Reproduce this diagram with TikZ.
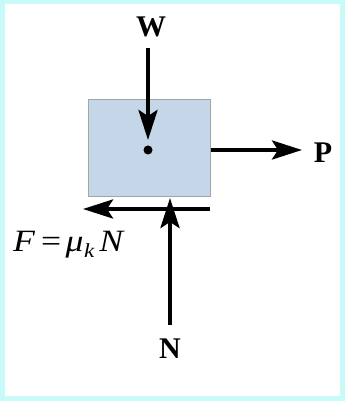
\documentclass[tikz,border=0pt]{standalone}
\usepackage{fontspec}
\setmainfont{Liberation Serif}
\usetikzlibrary{arrows.meta}
\definecolor{framecyan}{RGB}{200,250,250}
\definecolor{blockblue}{RGB}{196,214,232}
\definecolor{blockedge}{RGB}{160,165,170}
\tikzset{
  force/.style={line width=4pt,-{Stealth[length=30pt,width=19pt,inset=6pt]}},
  lbl/.style={font=\fontsize{30}{34}\selectfont\bfseries,inner sep=0pt}
}
\begin{document}
\begin{tikzpicture}[x=1pt,y=1pt]
    \useasboundingbox (0,0) rectangle (345,401);
    \fill[framecyan] (0,0) rectangle (345,401);
    \fill[white] (5,5) rectangle (340,397);

    % block
    \node[draw=blockedge,fill=blockblue,line width=1pt,minimum width=122pt,minimum height=97pt,inner sep=0pt] (block) at (149,252.5) {};
    \fill (148,251) circle (4.5pt);
    \coordinate (cg) at (148,261);

    % weight
    \node[lbl] (W) at (151,374) {W};
    \coordinate (wtail) at (148,353);
    \draw[force] (wtail) -- (cg);

    % push
    \coordinate (ptail) at (block.east |- 0,251);
    \coordinate (ptip) at (302,251);
    \draw[force] (ptail) -- (ptip);
    \node[lbl] (P) at (323,248) {P};

    % friction
    \coordinate (ftail) at (210,192);
    \coordinate (ftip) at (83,192);
    \draw[force] (ftail) -- (ftip);
    \node[font=\fontsize{31}{35}\selectfont,inner sep=0pt,anchor=base west] (F) at (13,149)
      {\scalebox{1.15}[1]{\textit{F}\hspace{5pt}=\hspace{4pt}\textit{μ}\hspace{0.5pt}\raisebox{-0.4ex}{\fontsize{20}{20}\selectfont\textit{k}}\hspace{4pt}\textit{N}}};

    % normal
    \coordinate (ntail) at (170,76);
    \coordinate (ntip) at (170,203);
    \draw[force] (ntail) -- (ntip);
    \node[lbl] (N) at (170,52) {N};
\end{tikzpicture}
\end{document}
